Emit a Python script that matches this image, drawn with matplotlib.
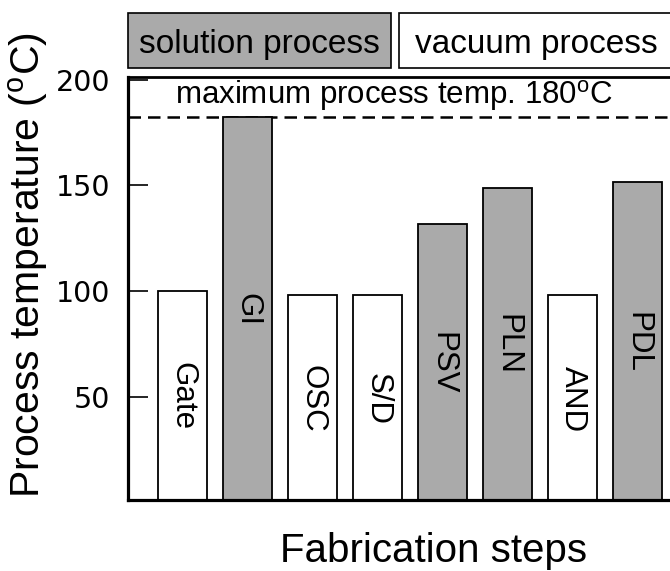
import matplotlib
matplotlib.use("Agg")
import matplotlib.pyplot as plt
from matplotlib.patches import Rectangle

# ---- data ----
steps = ["Gate", "GI", "OSC", "S/D", "PSV", "PLN", "AND", "PDL"]
temps = [100, 182.5, 98, 98, 131.5, 149, 98, 151.5]
process = ["vacuum", "solution", "vacuum", "vacuum", "solution", "solution", "vacuum", "solution"]
max_temp_line = 182.5
max_temp_label = r"maximum process temp. 180$^\mathregular{o}$C"
yticks = [50, 100, 150, 200]
legend_labels = ["solution process", "vacuum process"]

plt.rcParams['mathtext.fontset'] = 'custom'
plt.rcParams['mathtext.rm'] = 'Liberation Sans'
plt.rcParams['mathtext.it'] = 'Liberation Sans:italic'
plt.rcParams['mathtext.bf'] = 'Liberation Sans:bold'

W, H = 670, 571
fig = plt.figure(figsize=(W / 100, H / 100), dpi=100)

def fx(px):
    return px / W

def fy(py):
    return (H - py) / H

GRAY = "#aaaaaa"
ax_left, ax_right, ax_top, ax_bot = 128, 673, 76.7, 500
ax = fig.add_axes([fx(ax_left), fy(ax_bot), (ax_right - ax_left) / W, (ax_bot - ax_top) / H])

colors = [GRAY if p == "solution" else "white" for p in process]
xs = list(range(len(steps)))
ax.bar(xs, temps, width=0.753, color=colors, edgecolor="black", linewidth=1.3, zorder=2)

for x, t, s in zip(xs, temps, steps):
    ax.text(x, t / 2, s, rotation=-90, ha="center", va="center",
            fontsize=22.5, family="Liberation Sans", zorder=3)

ax.axhline(max_temp_line, color="black", linewidth=1.8, linestyle=(0, (5, 2.8)), zorder=1)

ax.set_xlim(-0.8396, 7.541)
ax.set_ylim(1, 201.5)
ax.set_xticks([])
ax.set_yticks(yticks)
ax.set_yticklabels([str(v) for v in yticks], family="DejaVu Sans", fontsize=20.5)
ax.tick_params(axis="y", direction="in", length=14.4, width=1.2, pad=13)
for side in ["left", "bottom"]:
    ax.spines[side].set_linewidth(2.3)
ax.spines["top"].set_linewidth(2.0)
ax.spines["right"].set_linewidth(2.0)

# text for max temp
fig.text(fx(394), fy(104), max_temp_label, ha="center", va="baseline",
         fontsize=22.5, family="Liberation Sans")

# top process boxes
box_top, box_bot = 13.3, 68.3
boxes = [(128.3, 390.7, GRAY), (399.3, 673, "white")]
for (x0, x1, c), lab in zip(boxes, legend_labels):
    fig.patches.append(Rectangle((fx(x0), fy(box_bot)), (x1 - x0) / W, (box_bot - box_top) / H,
                                 transform=fig.transFigure, facecolor=c, edgecolor="black",
                                 linewidth=1.2))
    fig.text(fx((x0 + x1) / 2), fy(53.5), lab, ha="center", va="baseline",
             fontsize=24, family="Liberation Sans")

# axis labels
fig.text(fx(28), fy(265), r"Process temperature ($^\mathregular{o}$C)", rotation=90,
         ha="center", va="center", fontsize=29.5, family="Liberation Sans")
fig.text(fx(434), fy(562), "Fabrication steps", ha="center", va="baseline",
         fontsize=29, family="Liberation Sans")

fig.savefig("out.png", dpi=100)
